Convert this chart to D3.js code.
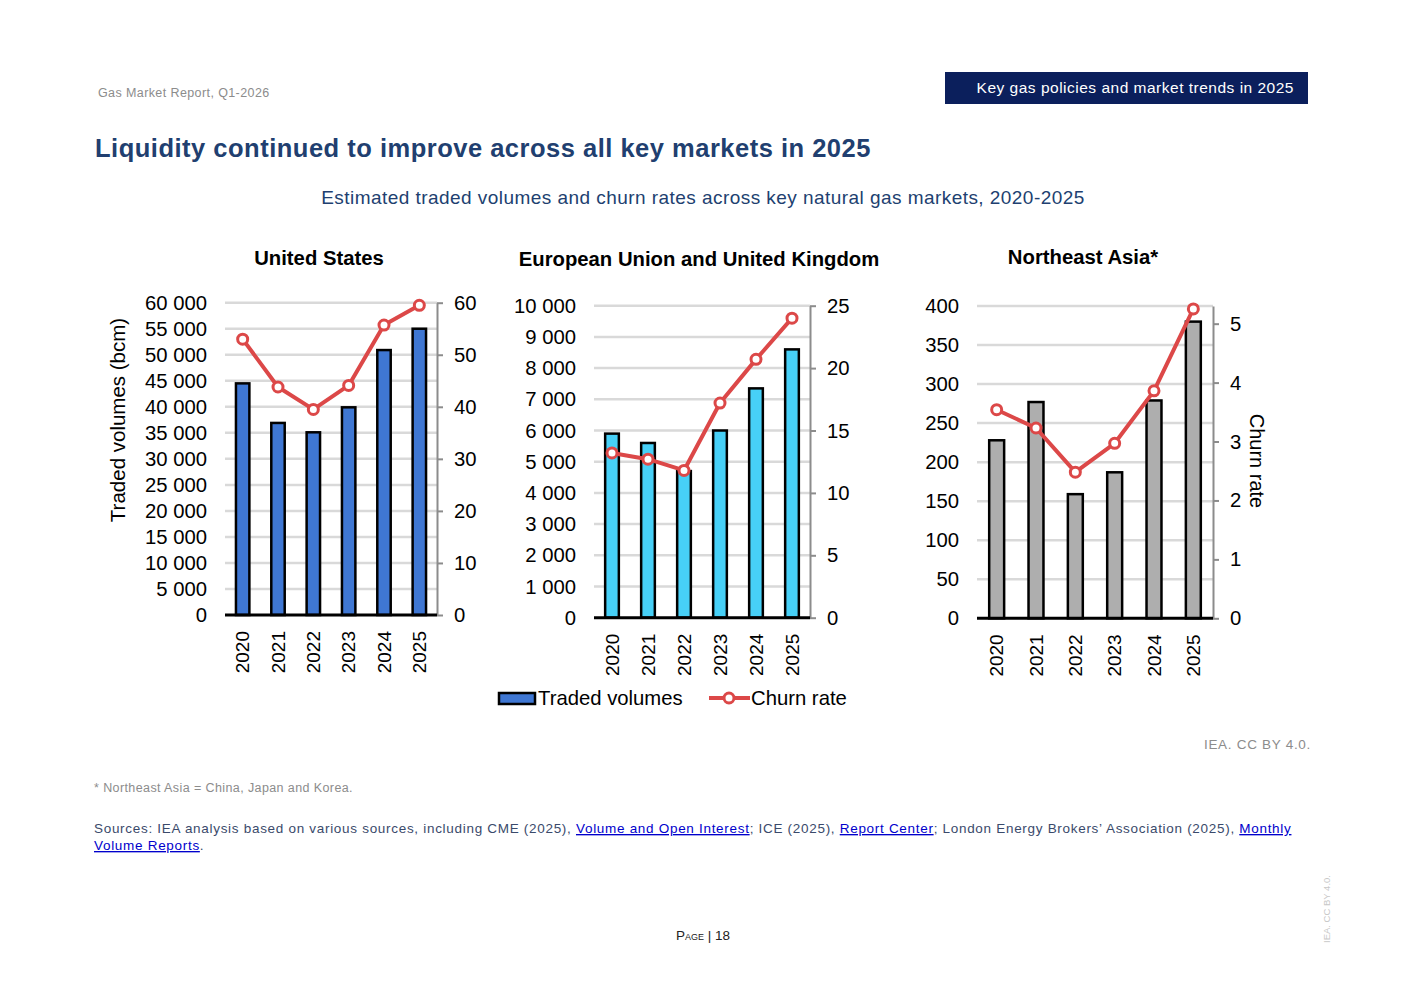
<!DOCTYPE html>
<html lang="en">
<head>
  <meta charset="UTF-8">
  <title>Liquidity continued to improve across all key markets in 2025</title>
  <style>
    body { margin: 0; background: #fff; font-family: Arial, "Liberation Sans", sans-serif; }
    svg { display: block; }
    .grid line { stroke: #d9d9d9; stroke-width: 2.5px; }
    .axis text { font-family: Arial, "Liberation Sans", sans-serif; font-size: 20.3px; fill: #000; }
    .axis-right path, .axis-right line { stroke: #8c8c8c; stroke-width: 2px; }
    .bar { stroke: #000; stroke-width: 2.5px; }
    .churn { fill: none; stroke: #dc4848; stroke-width: 4px; stroke-linejoin: round; }
    .dot { fill: #fff; stroke: #dc4848; stroke-width: 3px; }
    .panel-title { font-size: 20.3px; font-weight: bold; fill: #000; text-anchor: middle; }
    .year { font-size: 19px; fill: #000; }
    .note { fill: #8c8c8c; }
    .link { fill: #0000cc; text-decoration: underline; }
  </style>
</head>
<body>
  <svg width="1403" height="992"></svg>

  <script src="https://d3js.org/d3.v7.min.js"></script>
  <script>
    // values
    const years = ["2020", "2021", "2022", "2023", "2024", "2025"];

    const usVolumes = [44500, 36900, 35100, 39900, 50900, 55000];
    const usChurn = [53.0, 43.8, 39.5, 44.1, 55.7, 59.5];

    const euVolumes = [5900, 5600, 4700, 6000, 7350, 8600];
    const euChurn = [13.2, 12.7, 11.8, 17.2, 20.7, 24.0];

    const neaVolumes = [228, 277, 159, 187, 279, 380];
    const neaChurn = [3.54, 3.23, 2.48, 2.97, 3.86, 5.25];

    const usVolumeTicks = [0, 5000, 10000, 15000, 20000, 25000, 30000, 35000, 40000, 45000, 50000, 55000, 60000];
    const usChurnTicks = [0, 10, 20, 30, 40, 50, 60];
    const euVolumeTicks = [0, 1000, 2000, 3000, 4000, 5000, 6000, 7000, 8000, 9000, 10000];
    const euChurnTicks = [0, 5, 10, 15, 20, 25];
    const neaVolumeTicks = [0, 50, 100, 150, 200, 250, 300, 350, 400];
    const neaChurnTicks = [0, 1, 2, 3, 4, 5];

    const panels = [
      { title: "United States", volumes: usVolumes, churn: usChurn,
        vTicks: usVolumeTicks, cTicks: usChurnTicks, vMax: 60000, cMax: 60,
        color: "#3f77d3", x0: 225, x1: 437, yTop: 302.7, yBot: 615, titleX: 319, titleY: 265 },
      { title: "European Union and United Kingdom", volumes: euVolumes, churn: euChurn,
        vTicks: euVolumeTicks, cTicks: euChurnTicks, vMax: 10000, cMax: 25,
        color: "#47d0f7", x0: 594, x1: 810, yTop: 305.7, yBot: 617.7, titleX: 699, titleY: 266 },
      { title: "Northeast Asia*", volumes: neaVolumes, churn: neaChurn,
        vTicks: neaVolumeTicks, cTicks: neaChurnTicks, vMax: 400, cMax: 5.3,
        color: "#aeaeae", x0: 977, x1: 1213, yTop: 306, yBot: 618.3, titleX: 1083, titleY: 264 }
    ];

    const fmt = d3.formatLocale({ decimal: ".", thousands: "\u00a0", grouping: [3], currency: ["", ""] }).format(",");

    const svg = d3.select("svg");

    // page header
    svg.append("text").attr("x", 98).attr("y", 97)
      .attr("class", "note").attr("font-size", 12.5).attr("letter-spacing", 0.4)
      .text("Gas Market Report, Q1-2026");
    svg.append("rect").attr("x", 945).attr("y", 72).attr("width", 363).attr("height", 32).attr("fill", "#0b1f5c");
    svg.append("text").attr("x", 1294).attr("y", 93).attr("text-anchor", "end")
      .attr("fill", "#fff").attr("font-size", 15.5).attr("letter-spacing", 0.5)
      .text("Key gas policies and market trends in 2025");

    svg.append("text").attr("x", 95).attr("y", 157)
      .attr("fill", "#213f70").attr("font-size", 25.5).attr("font-weight", "bold").attr("letter-spacing", 0.5)
      .text("Liquidity continued to improve across all key markets in 2025");
    svg.append("text").attr("x", 703).attr("y", 204).attr("text-anchor", "middle")
      .attr("fill", "#213f70").attr("font-size", 19).attr("letter-spacing", 0.45)
      .text("Estimated traded volumes and churn rates across key natural gas markets, 2020-2025");

    panels.forEach(p => {
      const g = svg.append("g");

      const x = d3.scaleBand().domain(years).range([p.x0, p.x1])
        .paddingInner(0.62).paddingOuter(0.31);
      const yL = d3.scaleLinear().domain([0, p.vMax]).range([p.yBot, p.yTop]);
      const yR = d3.scaleLinear().domain([0, p.cMax]).range([p.yBot, p.yTop]);

      g.append("g").attr("class", "grid")
        .selectAll("line")
        .data(p.vTicks.filter(t => t > 0))
        .enter().append("line")
        .attr("x1", p.x0).attr("x2", p.x1)
        .attr("y1", d => yL(d)).attr("y2", d => yL(d));

      const left = g.append("g").attr("class", "axis")
        .attr("transform", `translate(${p.x0},0)`)
        .call(d3.axisLeft(yL).tickValues(p.vTicks).tickSize(0).tickPadding(18).tickFormat(fmt));
      left.select(".domain").remove();

      g.append("g").attr("class", "axis axis-right")
        .attr("transform", `translate(${p.x1},0)`)
        .call(d3.axisRight(yR).tickValues(p.cTicks).tickSizeInner(6).tickSizeOuter(0)
          .tickPadding(11).tickFormat(d3.format("d")));

      g.append("g").selectAll("rect")
        .data(p.volumes)
        .enter().append("rect")
        .attr("class", "bar")
        .attr("fill", p.color)
        .attr("x", (d, i) => x(years[i]))
        .attr("width", x.bandwidth())
        .attr("y", d => yL(d))
        .attr("height", d => yL(0) - yL(d));

      g.append("line")
        .attr("x1", p.x0).attr("x2", p.x1)
        .attr("y1", p.yBot).attr("y2", p.yBot)
        .attr("stroke", "#000").attr("stroke-width", 3);

      const cx = (d, i) => x(years[i]) + x.bandwidth() / 2;
      g.append("path")
        .attr("class", "churn")
        .attr("d", d3.line().x(cx).y(d => yR(d))(p.churn));
      g.append("g").selectAll("circle")
        .data(p.churn)
        .enter().append("circle")
        .attr("class", "dot")
        .attr("r", 5)
        .attr("cx", cx)
        .attr("cy", d => yR(d));

      g.append("g").selectAll("text")
        .data(years)
        .enter().append("text")
        .attr("class", "year")
        .attr("text-anchor", "end")
        .attr("dy", "0.35em")
        .attr("transform", d => `translate(${x(d) + x.bandwidth() / 2},${p.yBot + 16}) rotate(-90)`)
        .text(d => d);

      g.append("text").attr("class", "panel-title")
        .attr("x", p.titleX).attr("y", p.titleY).text(p.title);
    });

    // axis titles
    svg.append("text").attr("transform", "translate(125,420) rotate(-90)")
      .attr("text-anchor", "middle").attr("font-size", 20.5).text("Traded volumes (bcm)");
    svg.append("text").attr("transform", "translate(1250,461) rotate(90)")
      .attr("text-anchor", "middle").attr("font-size", 20).text("Churn rate");

    // legend
    const legend = svg.append("g");
    legend.append("rect").attr("x", 499).attr("y", 693).attr("width", 36).attr("height", 11)
      .attr("fill", "#3f77d3").attr("stroke", "#000").attr("stroke-width", 2.5);
    legend.append("text").attr("x", 538).attr("y", 705).attr("font-size", 20.3).text("Traded volumes");
    legend.append("line").attr("x1", 709).attr("x2", 750).attr("y1", 698).attr("y2", 698)
      .attr("class", "churn");
    legend.append("circle").attr("cx", 729).attr("cy", 698).attr("r", 5).attr("class", "dot");
    legend.append("text").attr("x", 751).attr("y", 705).attr("font-size", 20.3).text("Churn rate");

    // notes and sources
    svg.append("text").attr("x", 1311).attr("y", 749).attr("text-anchor", "end")
      .attr("class", "note").attr("font-size", 13.5).attr("letter-spacing", 0.7).text("IEA. CC BY 4.0.");
    svg.append("text").attr("x", 94).attr("y", 792)
      .attr("class", "note").attr("font-size", 12.5).attr("letter-spacing", 0.4)
      .text("* Northeast Asia = China, Japan and Korea.");

    const src = svg.append("text").attr("x", 94).attr("y", 833)
      .attr("font-size", 13.5).attr("letter-spacing", 0.7).attr("fill", "#3a4a6b");
    src.append("tspan").text("Sources: IEA analysis based on various sources, including CME (2025), ");
    src.append("tspan").attr("class", "link").text("Volume and Open Interest");
    src.append("tspan").text("; ICE (2025), ");
    src.append("tspan").attr("class", "link").text("Report Center");
    src.append("tspan").text("; London Energy Brokers\u2019 Association (2025), ");
    src.append("tspan").attr("class", "link").text("Monthly");
    const src2 = svg.append("text").attr("x", 94).attr("y", 850)
      .attr("font-size", 13.5).attr("letter-spacing", 0.7).attr("fill", "#3a4a6b");
    src2.append("tspan").attr("class", "link").text("Volume Reports");
    src2.append("tspan").text(".");

    svg.append("text").attr("transform", "translate(1330,943) rotate(-90)")
      .attr("font-size", 9.5).attr("fill", "#c8c8c8").text("IEA. CC BY 4.0.");

    svg.append("text").attr("x", 703).attr("y", 940).attr("text-anchor", "middle")
      .attr("font-size", 13.5).attr("fill", "#222").style("font-variant", "small-caps")
      .text("Page | 18");
  </script>
</body>
</html>
